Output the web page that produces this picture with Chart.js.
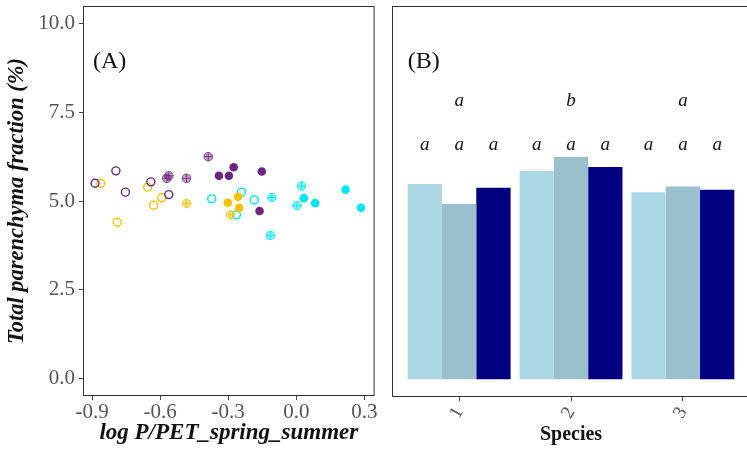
<!DOCTYPE html>
<html>
<head>
<meta charset="utf-8">
<script src="https://cdn.jsdelivr.net/npm/chart.js@4.4.0/dist/chart.umd.min.js"></script>
<style>
  html, body { margin: 0; padding: 0; background: #fff; overflow: hidden; }
  #wrap { position: relative; width: 747px; height: 449px; overflow: hidden; }
  #boxA { position: absolute; left: 0; top: 0; width: 380px; height: 449px; }
  #boxB { position: absolute; left: 380px; top: 0; width: 370px; height: 449px; }
</style>
</head>
<body>
<div id="wrap">
  <div id="boxA"><canvas id="chartA"></canvas></div>
  <div id="boxB"><canvas id="chartB"></canvas></div>
</div>
<script>
// ---- panel A data: [log P/PET, parenchyma %] ----
const purpleOpen = [[-0.887, 5.50], [-0.795, 5.85], [-0.753, 5.25], [-0.641, 5.54], [-0.562, 5.18]];
const purpleCross = [[-0.571, 5.64], [-0.562, 5.71], [-0.484, 5.64], [-0.388, 6.25]];
const purpleFilled = [[-0.341, 5.71], [-0.297, 5.71], [-0.276, 5.95], [-0.152, 5.83], [-0.162, 4.72]];
const goldOpen = [[-0.862, 5.50], [-0.789, 4.40], [-0.655, 5.39], [-0.629, 4.88], [-0.593, 5.09]];
const goldCross = [[-0.484, 4.93], [-0.290, 4.61]];
const goldFilled = [[-0.302, 4.95], [-0.257, 5.12], [-0.252, 4.81]];
const cyanOpen = [[-0.373, 5.06], [-0.242, 5.25], [-0.185, 5.03], [-0.264, 4.61]];
const cyanCross = [[-0.108, 5.10], [0.023, 5.42], [0.003, 4.87], [-0.114, 4.03]];
const cyanFilled = [[0.033, 5.08], [0.083, 4.94], [0.217, 5.32], [0.285, 4.81]];

const xTicksA = [-0.9, -0.6, -0.3, 0.0, 0.3];
const yTicks = [0, 2.5, 5, 7.5, 10];

// ---- panel B data ----
const species = ['1', '2', '3'];
const barSeries1 = [5.49, 5.86, 5.26];
const barSeries2 = [4.93, 6.25, 5.42];
const barSeries3 = [5.39, 5.97, 5.33];
const groupLetters = ['a', 'b', 'a'];
const barLetters = [['a', 'a', 'a'], ['a', 'a', 'a'], ['a', 'a', 'a']];

const PURPLE = '#6E2581';
const GOLD = '#F4C300';
const CYAN = '#00E6EE';
const SERIF = '"Liberation Serif", "DejaVu Serif", serif';

function rgba(hex, a) {
  const n = parseInt(hex.slice(1), 16);
  return `rgba(${(n >> 16) & 255},${(n >> 8) & 255},${n & 255},${a})`;
}
function pts(arr) {
  return arr.map(p => ({ x: p[0], y: p[1] }));
}

function openSet(arr, c) {
  return { data: pts(arr), pointStyle: 'circle', pointRadius: 4, borderWidth: 1.4,
    borderColor: c, backgroundColor: 'rgba(255,255,255,0)' };
}
function filledSet(arr, c) {
  return { data: pts(arr), pointStyle: 'circle', pointRadius: 4.3, borderWidth: 0,
    borderColor: c, backgroundColor: c };
}
function crossSets(arr, c) {
  return [
    { data: pts(arr), pointStyle: 'circle', pointRadius: 4.3, borderWidth: 1,
      borderColor: rgba(c, 0.75), backgroundColor: rgba(c, 0.45) },
    { data: pts(arr), pointStyle: 'cross', pointRadius: 4.3, borderWidth: 1,
      borderColor: rgba(c, 0.8), backgroundColor: rgba(c, 0.8) }
  ];
}

const frame = {
  id: 'frame',
  afterDraw(chart) {
    const { ctx, chartArea: { left, top, right, bottom } } = chart;
    ctx.save();
    ctx.strokeStyle = '#333';
    ctx.lineWidth = 1;
    ctx.strokeRect(left + 0.5, top + 0.5, right - left - 1, bottom - top - 1);
    ctx.restore();
  }
};

const labelA = {
  id: 'labelA',
  afterDraw(chart) {
    const { ctx, scales: { x, y } } = chart;
    ctx.save();
    ctx.fillStyle = '#111';
    ctx.font = '24px ' + SERIF;
    ctx.textAlign = 'left';
    ctx.textBaseline = 'middle';
    ctx.fillText('(A)', x.getPixelForValue(-0.896), y.getPixelForValue(8.93));
    ctx.restore();
  }
};

const letteringB = {
  id: 'letteringB',
  afterDraw(chart) {
    const { ctx, scales: { x, y } } = chart;
    ctx.save();
    ctx.fillStyle = '#111';
    ctx.textAlign = 'center';
    ctx.textBaseline = 'middle';
    ctx.font = 'italic 19px ' + SERIF;
    groupLetters.forEach((t, i) => {
      ctx.fillText(t, x.getPixelForValue(i + 1), y.getPixelForValue(7.82));
    });
    for (let d = 0; d < 3; d++) {
      const meta = chart.getDatasetMeta(d);
      meta.data.forEach((bar, i) => {
        ctx.fillText(barLetters[i][d], bar.x, y.getPixelForValue(6.58));
      });
    }
    ctx.font = '24px ' + SERIF;
    ctx.textAlign = 'left';
    ctx.fillText('(B)', x.getPixelForValue(0.54), y.getPixelForValue(8.93));
    ctx.restore();
  }
};

const tickFont = { family: SERIF, size: 21 };
const tickColor = '#555';
const gridTicks = { drawOnChartArea: false, drawTicks: true, tickLength: 4, color: '#444', offset: false };

function noPad(s) {
  s.paddingTop = 0; s.paddingBottom = 0; s.paddingLeft = 0; s.paddingRight = 0;
}

new Chart(document.getElementById('chartA'), {
  type: 'scatter',
  data: {
    datasets: [
      openSet(purpleOpen, PURPLE), ...crossSets(purpleCross, PURPLE), filledSet(purpleFilled, PURPLE),
      openSet(goldOpen, GOLD), ...crossSets(goldCross, GOLD), filledSet(goldFilled, GOLD),
      openSet(cyanOpen, CYAN), ...crossSets(cyanCross, CYAN), filledSet(cyanFilled, CYAN)
    ]
  },
  options: {
    responsive: true,
    maintainAspectRatio: false,
    animation: false,
    devicePixelRatio: 1,
    layout: { padding: { top: 6, right: 4, left: 0, bottom: 0 } },
    plugins: { legend: { display: false }, tooltip: { enabled: false } },
    scales: {
      x: {
        type: 'linear', min: -0.94, max: 0.345,
        afterBuildTicks: s => { s.ticks = xTicksA.map(v => ({ value: v })); },
        afterFit: s => { s.height = 53; noPad(s); },
        ticks: { font: tickFont, color: tickColor, padding: 0, maxRotation: 0,
          callback: v => v.toFixed(1) },
        grid: gridTicks,
        border: { display: false },
        title: { display: true, text: 'log P/PET_spring_summer', color: '#111',
          font: { family: SERIF, size: 23, weight: 'bold', style: 'italic' },
          padding: { top: 0, bottom: 2 } }
      },
      y: {
        type: 'linear', min: -0.5, max: 10.5,
        afterBuildTicks: s => { s.ticks = yTicks.map(v => ({ value: v })); },
        afterFit: s => { s.width = 83; noPad(s); },
        ticks: { font: tickFont, color: tickColor, padding: 4,
          callback: v => v.toFixed(1) },
        grid: gridTicks,
        border: { display: false },
        title: { display: true, text: 'Total parenchyma fraction (%)', color: '#111',
          font: { family: SERIF, size: 22.5, weight: 'bold', style: 'italic' },
          padding: { top: 4, bottom: 0 } }
      }
    }
  },
  plugins: [frame, labelA]
});

const barColors = ['#ADD8E6', '#9ABFCD', '#000080'];
const barSets = [barSeries1, barSeries2, barSeries3].map((vals, d) => ({
  data: vals.map((v, i) => ({ x: i + 1, y: v })),
  backgroundColor: barColors[d],
  borderWidth: 0,
  categoryPercentage: 0.92,
  barPercentage: 1.0
}));

new Chart(document.getElementById('chartB'), {
  type: 'bar',
  data: { datasets: barSets },
  options: {
    responsive: true,
    maintainAspectRatio: false,
    animation: false,
    devicePixelRatio: 1,
    layout: { padding: { top: 6, right: 0, left: 12, bottom: 0 } },
    plugins: { legend: { display: false }, tooltip: { enabled: false } },
    scales: {
      x: {
        type: 'linear', min: 0.4, max: 3.6, offset: false,
        afterBuildTicks: s => { s.ticks = species.map((t, i) => ({ value: i + 1 })); },
        afterFit: s => { s.height = 52; noPad(s); },
        ticks: { font: { family: SERIF, size: 19 }, color: tickColor, padding: 2,
          minRotation: 60, maxRotation: 60,
          callback: (v) => species[v - 1] },
        grid: gridTicks,
        border: { display: false },
        title: { display: true, text: 'Species', color: '#111',
          font: { family: SERIF, size: 20, weight: 'bold' },
          padding: { top: 0, bottom: 2 } }
      },
      y: { display: false, min: -0.5, max: 10.5 }
    }
  },
  plugins: [frame, letteringB]
});
</script>
</body>
</html>
